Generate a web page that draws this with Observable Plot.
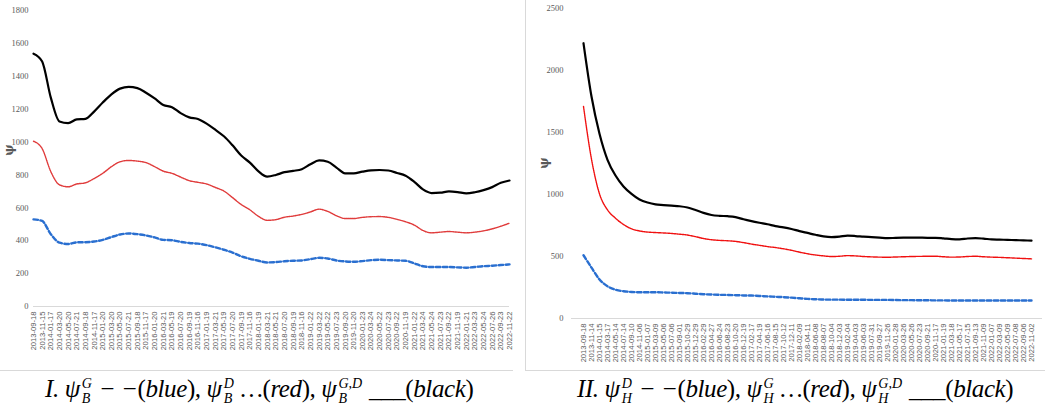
<!DOCTYPE html>
<html><head><meta charset="utf-8">
<script src="https://cdn.jsdelivr.net/npm/d3@7"></script>
<script src="https://cdn.jsdelivr.net/npm/@observablehq/plot@0.6"></script>
<style>
body{margin:0;background:#fff;}
#wrap{position:relative;width:1045px;height:411px;overflow:hidden;background:#fff;}
.panel{position:absolute;top:0;height:370px;border-bottom:1px solid #d9d9d9;}
#p1{left:0;width:513px;}
#p2{left:525px;width:520px;border-left:1px solid #d9d9d9;}
.panel svg{display:block;}
.ylab{position:absolute;font-family:"DejaVu Serif",serif;font-weight:bold;font-size:12px;line-height:12px;color:#595959;transform:rotate(-90deg);transform-origin:center;}
.cap{position:absolute;top:372px;font-family:"Liberation Serif",serif;font-style:italic;font-size:25px;letter-spacing:-0.4px;white-space:nowrap;color:#000;line-height:34px;}
.ss{display:inline-block;font-size:14px;line-height:15px;vertical-align:-6px;margin-left:2px;margin-right:1px;letter-spacing:0;}
.ss span{display:block;}
.up{font-style:normal;}
</style>
</head><body>
<div id="wrap">
  <div class="panel" id="p1"></div>
  <div class="panel" id="p2"></div>
  <div class="ylab" style="left:3px;top:144px;">ψ</div>
  <div class="ylab" style="left:538px;top:157px;">ψ</div>
  <div class="cap" style="left:45px;">I. ψ<span class="ss"><span>G</span><span>B</span></span> − −<span class="up">(</span>blue<span class="up">)</span>, ψ<span class="ss"><span>D</span><span>B</span></span> …<span class="up">(</span>red<span class="up">)</span>, ψ<span class="ss"><span>G,D</span><span>B</span></span> ___<span class="up">(</span>black<span class="up">)</span></div>
  <div class="cap" style="left:577px;">II. ψ<span class="ss"><span>D</span><span>H</span></span> − −<span class="up">(</span>blue<span class="up">)</span>, ψ<span class="ss"><span>G</span><span>H</span></span> …<span class="up">(</span>red<span class="up">)</span>, ψ<span class="ss"><span>G,D</span><span>H</span></span> ___<span class="up">(</span>black<span class="up">)</span></div>
</div>
<script>
// ---------- Panel I data ----------
const datesL = ["2013-09-18","2013-11-15","2014-01-17","2014-03-20","2014-05-20","2014-07-21","2014-09-18","2014-11-17","2015-01-20","2015-03-20","2015-05-20","2015-07-21","2015-09-18","2015-11-17","2016-01-20","2016-03-21","2016-05-19","2016-07-20","2016-09-19","2016-11-16","2017-01-19","2017-03-21","2017-05-19","2017-07-20","2017-09-19","2017-11-16","2018-01-19","2018-03-21","2018-05-21","2018-07-20","2018-09-19","2018-11-16","2019-01-22","2019-03-22","2019-05-22","2019-07-23","2019-09-20","2019-11-20","2020-01-23","2020-03-24","2020-05-22","2020-07-23","2020-09-22","2020-11-19","2021-01-22","2021-03-24","2021-05-24","2021-07-23","2021-09-22","2021-11-19","2022-01-21","2022-03-23","2022-05-24","2022-07-26","2022-09-23","2022-11-22"];
const blackL = [1537,1490,1270,1125,1115,1138,1141,1185,1240,1290,1325,1335,1328,1300,1265,1225,1212,1176,1150,1140,1112,1075,1035,980,918,875,822,790,800,817,825,835,865,888,880,845,810,810,820,828,830,827,812,795,758,712,690,692,700,696,688,695,708,726,752,766];
const redL = [1005,960,820,740,728,745,752,778,810,850,880,888,884,875,850,823,810,787,765,755,745,724,702,662,620,588,548,524,528,543,550,560,575,592,578,552,535,535,542,546,547,542,530,515,495,462,448,452,456,452,448,452,460,472,488,507];
const blueL = [530,520,440,388,380,390,391,395,405,422,438,444,440,432,420,405,403,393,386,382,373,360,345,328,305,290,278,268,270,275,278,280,288,296,292,280,274,272,276,282,284,282,280,278,262,245,240,240,240,238,236,240,245,248,252,256];
const yTicksL = [0,200,400,600,800,1000,1200,1400,1600,1800];

// ---------- Panel II data ----------
const datesR = ["2013-09-18","2013-11-14","2014-01-15","2014-03-17","2014-05-14","2014-07-14","2014-09-10","2014-11-06","2015-01-07","2015-03-09","2015-05-06","2015-07-06","2015-09-01","2015-10-29","2015-12-29","2016-02-29","2016-04-27","2016-06-24","2016-08-23","2016-10-20","2016-12-19","2017-02-17","2017-04-19","2017-06-16","2017-08-15","2017-10-12","2017-12-11","2018-02-09","2018-04-11","2018-06-08","2018-08-07","2018-10-04","2018-12-03","2019-02-04","2019-04-03","2019-06-03","2019-07-31","2019-09-27","2019-11-26","2020-01-28","2020-03-26","2020-05-26","2020-07-23","2020-09-21","2020-11-17","2021-01-19","2021-03-18","2021-05-17","2021-07-15","2021-09-13","2021-11-09","2022-01-07","2022-03-09","2022-05-09","2022-07-08","2022-09-06","2022-11-02"];
const blackR = [2220,1790,1490,1280,1153,1065,1005,960,935,920,915,910,905,895,875,852,835,828,825,818,800,785,772,760,745,735,722,705,690,675,662,656,660,668,665,660,656,652,648,650,652,653,652,651,651,646,640,638,645,648,644,638,636,634,632,630,628];
const redR = [1710,1285,1005,876,809,758,723,706,697,693,690,686,680,673,660,645,635,630,627,622,612,600,590,580,572,562,550,535,522,512,505,500,502,507,505,500,497,495,494,496,498,500,501,502,502,498,495,496,500,502,498,495,493,490,487,484,481];
const blueR = [510,410,315,260,232,220,214,212,212,212,210,208,206,204,200,196,193,191,190,188,186,185,182,178,175,172,168,163,158,155,153,152,152,151,151,151,150,150,150,149,148,148,147,147,146,146,145,145,145,145,145,145,145,145,145,145,145];
const yTicksR = [0,500,1000,1500,2000,2500];

function panel(o) {
  const rows = s => o.dates.map((d, i) => ({d, v: s[i]}));
  return Plot.plot({
    width: o.width, height: 370,
    marginLeft: o.ml, marginRight: o.mr, marginTop: o.mt, marginBottom: o.mb,
    style: {fontFamily: "Liberation Sans, sans-serif", fontSize: "8px", color: "#595959", background: "#fff"},
    x: {type: "point", domain: o.dates, padding: 0},
    y: {domain: [0, o.ticks[o.ticks.length - 1]]},
    marks: [
      Plot.ruleY([0], {stroke: "#d9d9d9", strokeWidth: 1}),
      Plot.axisX({tickRotate: -90, tickSize: 0, tickPadding: 5, label: null, fontSize: 7.6, fill: "#595959"}),
      Plot.axisY({ticks: o.ticks, tickFormat: d => String(d), tickSize: 0, tickPadding: o.tp, label: null, fontFamily: "Liberation Serif, serif", fontSize: 8.5, fill: "#595959"}),
      Plot.line(rows(o.blue), {x: "d", y: "v", stroke: "#2a6fd0", strokeWidth: 2.4, strokeDasharray: "4.5,2.5", curve: "monotone-x"}),
      Plot.line(rows(o.red), {x: "d", y: "v", stroke: o.redColor, strokeWidth: 1.4, strokeDasharray: "1.2,0.8", curve: "monotone-x"}),
      Plot.line(rows(o.black), {x: "d", y: "v", stroke: "#000", strokeWidth: 2.2, curve: "monotone-x"})
    ]
  });
}

document.getElementById("p1").append(panel({
  dates: datesL, black: blackL, red: redL, blue: blueL, ticks: yTicksL,
  width: 513, ml: 33, mr: 4, mt: 10, mb: 64, tp: 5, redColor: "#e03c3c"
}));
document.getElementById("p2").append(panel({
  dates: datesR, black: blackR, red: redR, blue: blueR, ticks: yTicksR,
  width: 519, ml: 45, mr: 3, mt: 8, mb: 52, tp: 8, redColor: "#f01010"
}));
</script>
</body></html>
